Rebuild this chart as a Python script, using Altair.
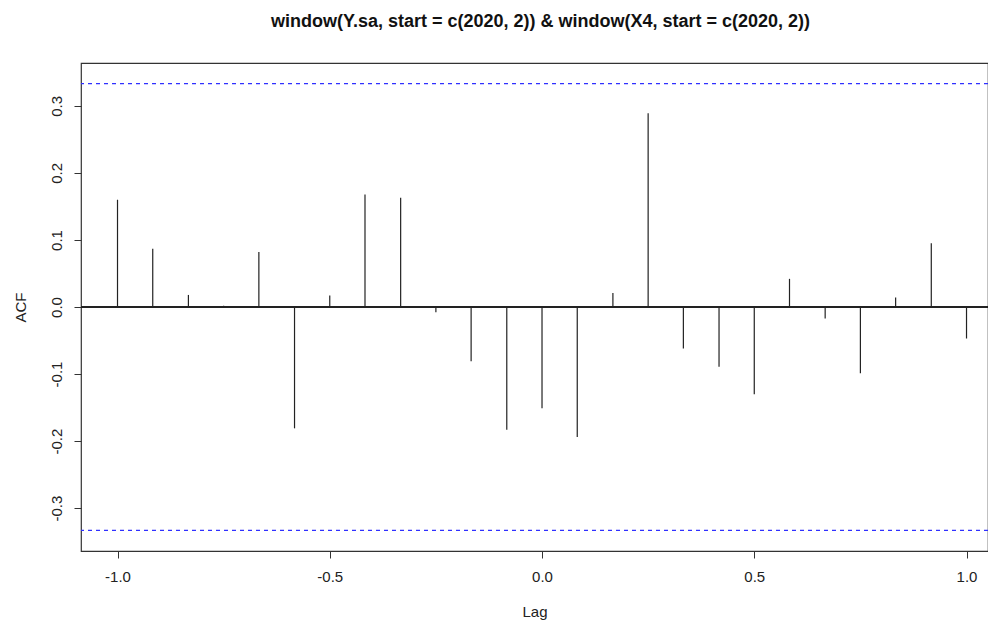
import altair as alt
import pandas as pd

# Lag values (years, monthly steps) and cross-correlation estimates
lags = [-1.0, -0.917, -0.833, -0.75, -0.667, -0.583, -0.5, -0.417, -0.333, -0.25,
        -0.167, -0.083, 0.0, 0.083, 0.167, 0.25, 0.333, 0.417, 0.5, 0.583,
        0.667, 0.75, 0.833, 0.917, 1.0]
acf = [0.160, 0.087, 0.018, 0.002, 0.082, -0.181, 0.017, 0.168, 0.163, -0.008,
       -0.081, -0.183, -0.151, -0.194, 0.021, 0.289, -0.062, -0.089, -0.130, 0.042,
       -0.017, -0.099, 0.014, 0.095, -0.047]
ci_bounds = [0.3333, -0.3333]
x_ticks = [-1.0, -0.5, 0.0, 0.5, 1.0]
y_ticks = [-0.3, -0.2, -0.1, 0.0, 0.1, 0.2, 0.3]

title_text = "window(Y.sa, start = c(2020, 2)) & window(X4, start = c(2020, 2))"

df = pd.DataFrame({"lag": lags, "acf": acf, "zero": [0.0] * len(lags)})
ci_df = pd.DataFrame({"ci": ci_bounds})

FONT = "Liberation Sans"
minus_fix = "replace(format(datum.value, '.1f'), '\u2212', '-')"

x_scale = alt.Scale(domain=[-1.086, 1.0506], nice=False, zero=False)
y_scale = alt.Scale(domain=[-0.364, 0.364], nice=False, zero=False)

x_axis = alt.Axis(values=x_ticks, labelExpr=minus_fix, title="Lag", grid=False,
                  domain=False, tickSize=7, tickColor="#333333", tickWidth=1,
                  labelFont=FONT, labelFontSize=15, labelColor="#222222",
                  labelPadding=11, titleFont=FONT, titleFontSize=15,
                  titleFontWeight="normal", titleColor="#222222",
                  titleY=60, titleBaseline="middle")
y_axis = alt.Axis(values=y_ticks, labelExpr=minus_fix, title="ACF", grid=False,
                  domain=False, tickSize=7, tickColor="#333333", tickWidth=1,
                  labelFont=FONT, labelFontSize=15, labelColor="#222222",
                  labelAngle=270, labelAlign="center", labelBaseline="bottom",
                  labelPadding=10, titleFont=FONT, titleFontSize=15,
                  titleFontWeight="normal", titleColor="#222222",
                  titleAngle=270, titleX=-61, titleY=244, titleBaseline="middle",
                  titleAlign="center")

stems = alt.Chart(df).mark_rule(color="#222222", strokeWidth=1.2).encode(
    x=alt.X("lag:Q", scale=x_scale, axis=x_axis),
    y=alt.Y("zero:Q", scale=y_scale, axis=y_axis),
    y2="acf:Q",
)

zero_line = alt.Chart(df).mark_rule(color="#222222", strokeWidth=1.2).encode(
    y=alt.datum(0.0, scale=y_scale)
)

ci_lines = alt.Chart(ci_df).mark_rule(color="#3030ff", strokeWidth=1.2,
                                      strokeDash=[4, 4]).encode(
    y=alt.Y("ci:Q", scale=y_scale)
)

chart = alt.layer(stems, zero_line, ci_lines).properties(
    width=907,
    height=488,
    autosize=alt.AutoSizeParams(type="none"),
    padding={"left": 81, "top": 63, "right": 0, "bottom": 75},
    title=alt.TitleParams(title_text, font=FONT, fontSize=18, fontWeight="bold",
                          color="#111111", anchor="middle", baseline="alphabetic",
                          offset=18, dx=6),
).configure(background="white").configure_view(stroke="#333333", strokeWidth=1.2)

chart.save("out.html", embed_options={"renderer": "svg", "actions": False})
